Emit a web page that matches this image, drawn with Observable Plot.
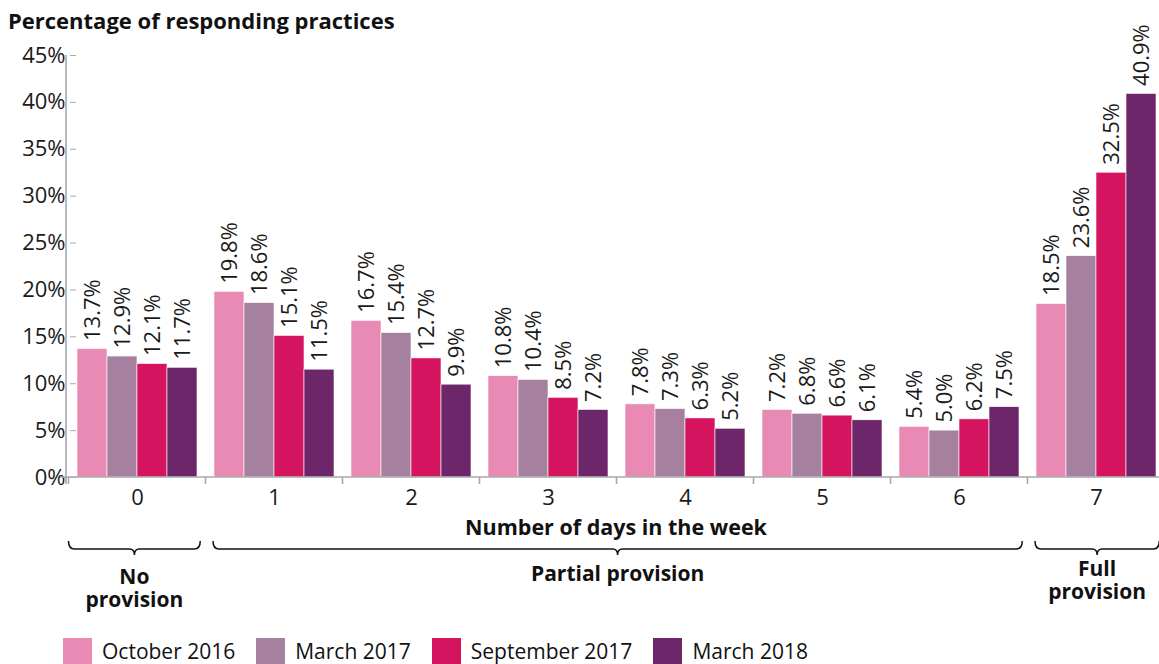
<!DOCTYPE html>
<html><head><meta charset="utf-8">
<script src="https://cdn.jsdelivr.net/npm/d3@7"></script>
<script src="https://cdn.jsdelivr.net/npm/@observablehq/plot@0.6"></script>
<style>
body{margin:0;background:#fff;font-family:"Open Sans",sans-serif;color:#111;}
#wrap{position:relative;width:1159px;height:664px;overflow:hidden;}
#wrap svg{position:absolute;left:0;top:0;}
#title{position:absolute;left:8px;top:6px;font-weight:700;font-size:22px;line-height:28px;color:#111;z-index:2;}
#legend{position:absolute;left:63px;top:637px;display:flex;align-items:center;z-index:2;font-size:21px;}
.item{display:flex;align-items:center;margin-right:21px;}
.sw{width:29px;height:26px;margin-right:10px;}
</style></head><body>
<div id="wrap"><div id="title">Percentage of responding practices</div><div id="legend"></div></div>
<script>
const days = ["0","1","2","3","4","5","6","7"];
const periods = ["October 2016","March 2017","September 2017","March 2018"];
const oct2016 = [13.7,19.8,16.7,10.8,7.8,7.2,5.4,18.5];
const mar2017 = [12.9,18.6,15.4,10.4,7.3,6.8,5.0,23.6];
const sep2017 = [12.1,15.1,12.7,8.5,6.3,6.6,6.2,32.5];
const mar2018 = [11.7,11.5,9.9,7.2,5.2,6.1,7.5,40.9];
const colors = ["#e88ab4","#a6819f","#d5145f","#6c2669"];
const yTicks = [0,5,10,15,20,25,30,35,40,45];
const xLabel = "Number of days in the week";
const groupNames = [["No","provision"],["Partial provision"],["Full","provision"]];
const groupFirst = ["0","1","7"];
const groupLast = ["0","6","7"];

const series = [oct2016, mar2017, sep2017, mar2018];
const table = days.flatMap((d, i) => periods.map((p, j) => ({day: d, period: p, value: series[j][i]})));

const FONT = '"Open Sans", sans-serif';
const W = 1159, H = 635;
const plot = Plot.plot({
  width: W, height: H,
  marginLeft: 66, marginRight: -7, marginTop: 55, marginBottom: 158,
  style: {fontFamily: FONT, fontSize: "22px", color: "#1a1a1a", background: "transparent", overflow: "visible"},
  fx: {domain: days, paddingInner: 0.11, paddingOuter: 0.055, label: null},
  x: {domain: periods, padding: 0, axis: null},
  y: {domain: [0, 45]},
  color: {domain: periods, range: colors},
  marks: [
    Plot.barY(table, {fx: "day", x: "period", y: "value", fill: "period", stroke: "white", strokeWidth: 0.6}),
    Plot.text(table, {fx: "day", x: "period", y: "value", text: d => d.value.toFixed(1) + "%", rotate: -90, textAnchor: "start", dy: -8, fontSize: 22, fill: "#1a1a1a"}),
    Plot.axisY({ticks: yTicks, tickFormat: d => d + "%", tickSize: 6, tickPadding: 5, stroke: "#a8a8aa", fontSize: 22, label: null}),
    Plot.axisFx({anchor: "bottom", tickSize: 0, tickPadding: 12, fontSize: 22, label: null})
  ]
});
document.getElementById("wrap").prepend(plot);

const fx = plot.scale("fx"), y = plot.scale("y");
const svg = d3.select(plot);
const y0 = y.apply(0), yTop = y.apply(45);
const gap = fx.step - fx.bandwidth;
const left = fx.range[0], right = fx.range[1];
const g = svg.append("g");
g.append("line").attr("x1", left).attr("x2", left).attr("y1", yTop).attr("y2", y0 + 7).attr("stroke", "#a8a8aa").attr("stroke-width", 1.6);
g.append("line").attr("x1", left - 6).attr("x2", right).attr("y1", y0).attr("y2", y0).attr("stroke", "#a8a8aa").attr("stroke-width", 1.6);
const bounds = days.map(d => fx.apply(d) - gap / 2).concat([fx.apply(days[days.length - 1]) + fx.bandwidth + gap / 2]);
bounds.forEach(b => g.append("line").attr("x1", b).attr("x2", b).attr("y1", y0).attr("y2", y0 + 7).attr("stroke", "#a8a8aa").attr("stroke-width", 1.6));

g.append("text").attr("x", (left + right) / 2).attr("y", y0 + 58).attr("text-anchor", "middle")
  .attr("font-family", FONT).attr("font-weight", 700).attr("font-size", 21.5).attr("fill", "#111").text(xLabel);

const bt = y0 + 64, bb = y0 + 72;
const labelY = [y0 + 107, y0 + 104, y0 + 99];
groupNames.forEach((lines, k) => {
  const x1 = fx.apply(groupFirst[k]) - (k === 0 ? gap * 0.5 : 0);
  const x2 = fx.apply(groupLast[k]) + fx.bandwidth + gap * 0.15;
  const cx = (x1 + x2) / 2;
  const p = `M${x1},${bt} Q${x1},${bb} ${x1 + 6},${bb} L${cx - 5},${bb} Q${cx},${bb} ${cx},${bb + 6} Q${cx},${bb} ${cx + 5},${bb} L${x2 - 6},${bb} Q${x2},${bb} ${x2},${bt}`;
  g.append("path").attr("d", p).attr("fill", "none").attr("stroke", "#111").attr("stroke-width", 1.5);
  const t = g.append("text").attr("x", cx).attr("y", labelY[k])
    .attr("text-anchor", "middle").attr("font-family", FONT).attr("font-weight", 700).attr("font-size", 21).attr("fill", "#111");
  lines.forEach((l, i) => t.append("tspan").attr("x", cx).attr("dy", i === 0 ? 0 : 23).text(l));
});

const legend = document.getElementById("legend");
periods.forEach((p, i) => {
  const it = document.createElement("div"); it.className = "item";
  const sw = document.createElement("div"); sw.className = "sw"; sw.style.background = colors[i];
  const tx = document.createElement("span"); tx.textContent = p;
  it.append(sw, tx); legend.append(it);
});
</script>
</body></html>
